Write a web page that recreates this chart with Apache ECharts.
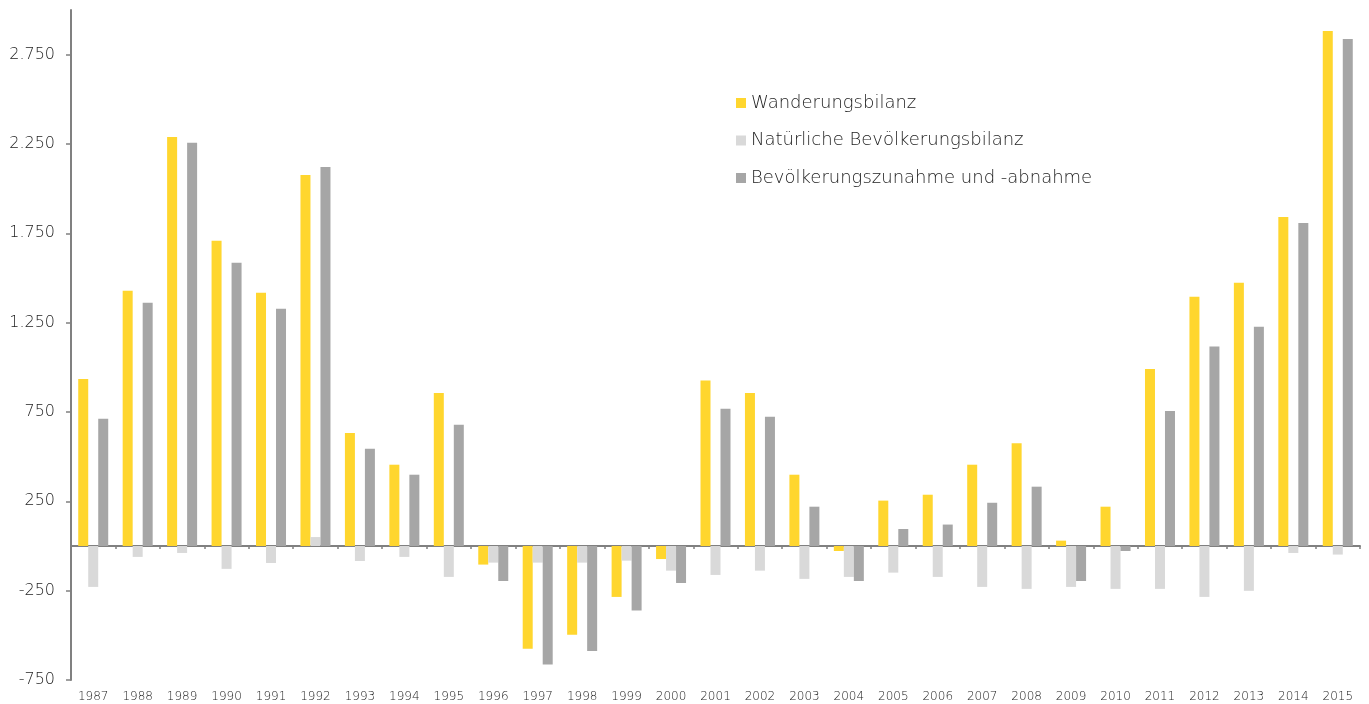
<!DOCTYPE html>
<html>
<head>
<meta charset="utf-8">
<script src="https://cdn.jsdelivr.net/npm/echarts@6/dist/echarts.min.js"></script>
<style>
  html, body { margin: 0; padding: 0; background: #fff; }
  #chart { width: 1369px; height: 704px; }
</style>
</head>
<body>
<div id="chart"></div>
<script>
// Bevölkerungsentwicklung 1987-2015

const years = ['1987', '1988', '1989', '1990', '1991', '1992', '1993', '1994', '1995', '1996',
  '1997', '1998', '1999', '2000', '2001', '2002', '2003', '2004', '2005', '2006',
  '2007', '2008', '2009', '2010', '2011', '2012', '2013', '2014', '2015'];

const wanderung = [935, 1428, 2289, 1708, 1417, 2077, 633, 455, 857, -104,
  -575, -497, -285, -73, 926, 857, 399, -28, 254, 287,
  455, 575, 30, 220, 991, 1395, 1473, 1842, 2883];

const natuerlich = [-229, -61, -39, -128, -95, 50, -84, -61, -173, -93,
  -93, -93, -82, -138, -162, -138, -184, -173, -149, -173,
  -229, -240, -229, -240, -240, -285, -251, -39, -48];

const zunahme = [712, 1361, 2257, 1585, 1328, 2121, 544, 399, 678, -196,
  -663, -587, -361, -207, 768, 723, 220, -196, 95, 120,
  242, 332, -196, -28, 756, 1116, 1227, 1808, 2838];

const yTicks = [-750, -250, 250, 750, 1250, 1750, 2250, 2750];

const seriesNames = ['Wanderungsbilanz', 'Natürliche Bevölkerungsbilanz', 'Bevölkerungszunahme und -abnahme'];
const colors = ['#FFD62E', '#D9D9D9', '#A6A6A6'];

const font = 'DejaVu Sans';

function fmt(v) {
  const s = String(Math.abs(v)).replace(/\B(?=(\d{3})+(?!\d))/g, '.');
  return (v < 0 ? '-' : '') + s;
}

const chart = echarts.init(document.getElementById('chart'));

const option = {
  animation: false,
  backgroundColor: '#fff',
  color: colors,
  grid: { left: 71, right: 9, top: 10, bottom: 24, containLabel: false },
  legend: {
    orient: 'vertical',
    left: 731,
    top: 88,
    icon: 'rect',
    itemWidth: 10,
    itemHeight: 10,
    itemGap: 17.5,
    textStyle: { color: '#222', fontFamily: font, fontWeight: 200, fontSize: 18, lineHeight: 20 },
    data: seriesNames
  },
  xAxis: [
    {
      type: 'category',
      data: years,
      axisLine: { onZero: true, lineStyle: { color: '#808080', width: 2 } },
      axisTick: { show: true, length: 3, lineStyle: { color: '#808080', width: 1.5 } },
      axisLabel: { show: false },
      splitLine: { show: false }
    },
    {
      type: 'category',
      data: years,
      position: 'bottom',
      axisLine: { show: false, onZero: false },
      axisTick: { show: false },
      axisLabel: { show: true, color: '#222', fontFamily: font, fontWeight: 200, fontSize: 12, margin: 11 },
      splitLine: { show: false }
    }
  ],
  yAxis: {
    type: 'value',
    min: -750,
    max: 3000,
    axisLine: { show: true, lineStyle: { color: '#808080', width: 2 } },
    axisTick: { show: true, length: 5, customValues: yTicks, lineStyle: { color: '#808080', width: 1.5 } },
    axisLabel: {
      customValues: yTicks,
      color: '#222',
      fontFamily: font,
      fontWeight: 200,
      fontSize: 16,
      margin: 16,
      formatter: v => fmt(v)
    },
    splitLine: { show: false }
  },
  series: [
    { name: seriesNames[0], type: 'bar', data: wanderung, barWidth: 10, barGap: '0%' },
    { name: seriesNames[1], type: 'bar', data: natuerlich, barWidth: 10, barGap: '0%' },
    { name: seriesNames[2], type: 'bar', data: zunahme, barWidth: 10, barGap: '0%' }
  ]
};

chart.setOption(option);
</script>
</body>
</html>
